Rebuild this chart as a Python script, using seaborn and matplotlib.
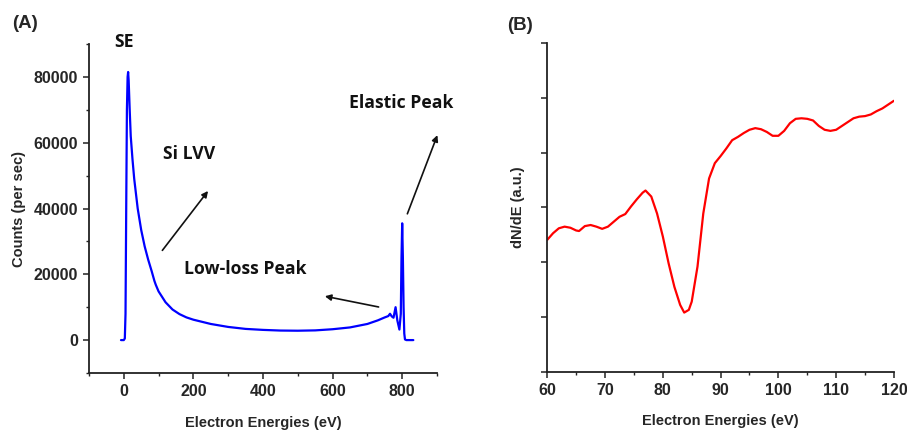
import numpy as np
import pandas as pd
import seaborn as sns
import matplotlib.pyplot as plt
from matplotlib.ticker import MultipleLocator, NullFormatter

# panel (A): full electron energy spectrum
energy_a = [-8, 0, 3, 5, 7, 9, 11, 12.5, 14, 17, 20, 25, 30, 40, 50, 60, 70, 80,
            88, 92, 100, 120, 140, 160, 180, 200, 250, 300, 350, 400, 450, 500,
            550, 600, 650, 700, 730, 750, 760, 765, 770, 775, 781, 786, 792, 796,
            798, 800, 802, 804, 806, 808, 812, 832]
counts_a = [0, 0, 500, 8000, 40000, 70000, 80000, 81500, 79000, 70000, 62000,
            55000, 49000, 40000, 33500, 28500, 24500, 21000, 18000, 16800, 14800,
            11500, 9300, 7900, 6900, 6200, 4900, 4000, 3400, 3100, 2900, 2850,
            2950, 3300, 3850, 4900, 6000, 6900, 7300, 8000, 7200, 6800, 10000,
            6000, 3200, 8000, 25000, 35500, 25000, 10000, 2000, 200, 0, 0]

# panel (B): derivative spectrum around the Si LVV line
energy_b = [60, 61, 62, 63, 64, 65, 65.5, 66.5, 67.5, 68.5, 69.5, 70.5, 71.5,
            72.5, 73.5, 74.5, 75.5, 76.5, 77, 78, 79, 80, 81, 82, 83, 83.7, 84.5,
            85, 86, 87, 88, 89, 90, 91, 92, 93, 94, 95, 96, 97, 98, 99, 100, 101,
            102, 103, 104, 105, 106, 107, 108, 109, 110, 111, 112, 113, 114, 115,
            116, 117, 118, 119, 120]
dnde_b = [2.41, 2.53, 2.62, 2.65, 2.63, 2.58, 2.57, 2.66, 2.68, 2.65, 2.61, 2.65,
          2.74, 2.83, 2.88, 3.02, 3.15, 3.27, 3.31, 3.20, 2.89, 2.47, 1.98, 1.55,
          1.22, 1.08, 1.13, 1.28, 1.92, 2.89, 3.53, 3.81, 3.94, 4.08, 4.23, 4.29,
          4.36, 4.42, 4.45, 4.43, 4.38, 4.31, 4.31, 4.40, 4.54, 4.62, 4.63, 4.62,
          4.59, 4.49, 4.42, 4.40, 4.42, 4.49, 4.56, 4.63, 4.66, 4.67, 4.70, 4.76,
          4.81, 4.88, 4.95]

sns.set_style("ticks")
plt.rcParams["font.family"] = ["Liberation Sans", "DejaVu Sans"]
plt.rcParams["font.weight"] = "bold"

fig = plt.figure(figsize=(9.07, 4.30), dpi=100)
axA = fig.add_axes([0.0981, 0.1326, 0.3837, 0.765])
axB = fig.add_axes([0.6034, 0.1356, 0.3822, 0.7637])

dfA = pd.DataFrame({"E": energy_a, "N": counts_a})
dfB = pd.DataFrame({"E": energy_b, "dN": dnde_b})

sns.lineplot(data=dfA, x="E", y="N", ax=axA, color="#0000ff", lw=1.6,
             estimator=None, sort=False)
sns.lineplot(data=dfB, x="E", y="dN", ax=axB, color="#ff0000", lw=1.6,
             estimator=None, sort=False)

for ax in (axA, axB):
    sns.despine(ax=ax)
    for s in ("left", "bottom"):
        ax.spines[s].set_linewidth(1.3)
        ax.spines[s].set_color("#222222")
    ax.tick_params(which="major", length=4.5, width=1.1, labelsize=11.5, color="#222222")
    ax.tick_params(which="minor", length=2.5, width=1.0, color="#222222")
    for lab in ax.get_xticklabels() + ax.get_yticklabels():
        lab.set_fontweight("bold")

axA.set_xlim(-100, 900)
axA.set_ylim(-10000, 90000)
axA.set_xticks([0, 200, 400, 600, 800])
axA.xaxis.set_minor_locator(MultipleLocator(100))
axA.set_yticks([0, 20000, 40000, 60000, 80000])
axA.yaxis.set_minor_locator(MultipleLocator(10000))
axA.set_xlabel("Electron Energies (eV)", fontsize=10.5, fontweight="bold", labelpad=12)
axA.set_ylabel("Counts (per sec)", fontsize=10.5, fontweight="bold", labelpad=5)

axB.set_xlim(60, 120)
axB.set_ylim(0, 6)
axB.set_xticks([60, 70, 80, 90, 100, 110, 120])
axB.xaxis.set_minor_locator(MultipleLocator(5))
axB.set_yticks(range(7))
axB.yaxis.set_major_formatter(NullFormatter())
axB.set_xlabel("Electron Energies (eV)", fontsize=10.5, fontweight="bold", labelpad=12)
axB.set_ylabel("dN/dE (a.u.)", fontsize=10.5, fontweight="bold", labelpad=8)

# annotations
ann = dict(fontsize=12.7, fontweight="bold", family=["Open Sans", "DejaVu Sans"],
           color="#111111", clip_on=False)
axA.text(0, 90700, "SE", ha="center", va="center", **ann)
axA.text(114, 56700, "Si LVV", ha="left", va="center", **ann)
axA.text(172, 21500, "Low-loss Peak", ha="left", va="center", **ann)
axA.text(646, 72200, "Elastic Peak", ha="left", va="center", **ann)

arrow = dict(arrowstyle="-|>", color="#111111", lw=1.2, mutation_scale=9)
axA.annotate("", xy=(247, 46000), xytext=(106, 26600), arrowprops=arrow,
             annotation_clip=False)
axA.annotate("", xy=(570, 13500), xytext=(740, 9900), arrowprops=arrow,
             annotation_clip=False)
axA.annotate("", xy=(904, 63100), xytext=(812, 37600), arrowprops=arrow,
             annotation_clip=False)

fig.text(12 / 907, 1 - 24 / 430, "(A)", fontsize=13.5, fontweight="bold", va="center")
fig.text(507 / 907, 1 - 25 / 430, "(B)", fontsize=13.5, fontweight="bold", va="center")

fig.savefig("out.png", dpi=100)
